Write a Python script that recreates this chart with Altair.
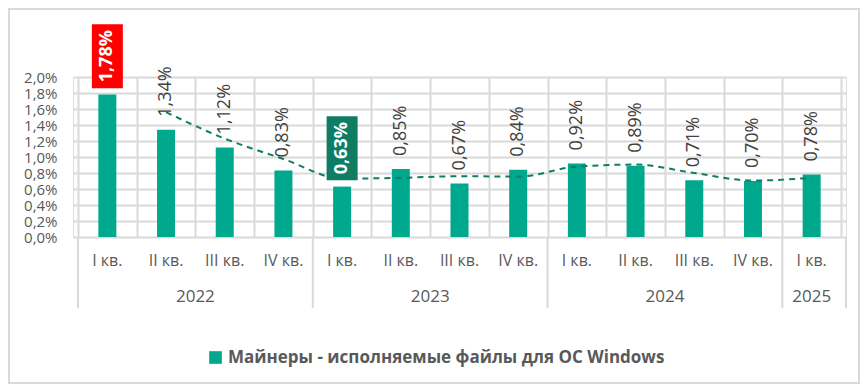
import altair as alt
import pandas as pd

quarters = ["I кв.", "II кв.", "III кв.", "IV кв.",
            "I кв.", "II кв.", "III кв.", "IV кв.",
            "I кв.", "II кв.", "III кв.", "IV кв.",
            "I кв."]
years = ["2022", "2022", "2022", "2022",
         "2023", "2023", "2023", "2023",
         "2024", "2024", "2024", "2024",
         "2025"]
values = [1.78, 1.34, 1.12, 0.83, 0.63, 0.85, 0.67, 0.84, 0.92, 0.89, 0.71, 0.70, 0.78]
series_name = "Майнеры - исполняемые файлы для ОС Windows"

df = pd.DataFrame({
    "idx": list(range(len(values))),
    "quarter": quarters,
    "year": years,
    "v": values,
    "series": [series_name] * len(values),
})

FONT = "Open Sans"
BAR = "#00A88E"
DARK = "#0E7D64"
GRID = "#D9D9D9"
TXT = "#595959"
W, H = 773, 160
PL, PT, PR, PB = 65, 69, 14, 147

xs = alt.Scale(domain=[0, 13], nice=False, zero=False)
ys = alt.Scale(domain=[0, 2], nice=False)

base = alt.Chart(df).transform_calculate(
    c="datum.idx + 0.5",
    lab="replace(format(datum.v, '.2f'), '.', ',') + '%'",
)

x_axis = alt.Axis(values=list(range(14)), grid=True, labels=False, ticks=False, domain=False,
                  title=None, gridColor=GRID, gridWidth=2)
y_axis = alt.Axis(values=[round(i * 0.2, 1) for i in range(11)], grid=True, gridColor=GRID,
                  gridWidth=2, domain=False, ticks=False, title=None, labelFontSize=15,
                  labelColor=TXT, labelFont=FONT, labelPadding=16, labelOverlap=False,
                  labelBaseline="middle",
                  labelExpr="replace(format(datum.value, '.1f'), '.', ',') + '%'")


def X(field):
    return alt.X(field, scale=xs, axis=x_axis)


def Y(field):
    return alt.Y(field, scale=ys, axis=y_axis)


bars = base.mark_bar(size=18).encode(
    x=X("c:Q"),
    y=Y("v:Q"),
    color=alt.Color("series:N", scale=alt.Scale(range=[BAR]),
                    legend=alt.Legend(orient="none", legendX=134, legendY=272, title=None,
                                      symbolType="square", symbolSize=160, symbolStrokeWidth=0,
                                      labelFontSize=17, labelFontWeight="bold", labelColor=TXT,
                                      labelFont=FONT, padding=0, labelOffset=4, labelLimit=0)),
)

ext = base.transform_joinaggregate(vmax="max(v)", vmin="min(v)")

labels = ext.transform_filter("datum.v != datum.vmax && datum.v != datum.vmin").mark_text(
    angle=270, align="left", baseline="middle", dx=13, fontSize=18, font=FONT, color="#404040"
).encode(x=X("c:Q"), y=Y("v:Q"), text="lab:N")

hl = ext.transform_filter("datum.v == datum.vmax || datum.v == datum.vmin").transform_calculate(
    lo="datum.v + 0.08", hi="datum.v + 0.88", mid="datum.v + 0.48",
    col=f"datum.v == datum.vmax ? '#FF0000' : '{DARK}'",
)
boxes = hl.mark_bar(size=31).encode(
    x=X("c:Q"), y=Y("lo:Q"), y2="hi:Q",
    fill=alt.Fill("col:N", scale=None),
)
hl_text = hl.mark_text(angle=270, align="center", baseline="middle", fontSize=18,
                       fontWeight="bold", font=FONT, color="white").encode(
    x=X("c:Q"), y=Y("mid:Q"), text="lab:N")

trend = base.transform_window(
    ma="mean(v)", frame=[-1, 0], sort=[alt.SortField("idx")]
).transform_filter("datum.idx >= 1").mark_line(
    color=DARK, strokeWidth=2, strokeDash=[6, 5], interpolate="monotone"
).encode(x=X("c:Q"), y=Y("ma:Q"))

qlabels = base.mark_text(fontSize=16, font=FONT, color=TXT, baseline="middle").encode(
    x=X("c:Q"), y=alt.value(H + 24), text="quarter:N")

ylabels = base.transform_aggregate(
    lo="min(idx)", hi="max(idx)", groupby=["year"]
).transform_calculate(mid="(datum.lo + datum.hi + 1) / 2").mark_text(
    fontSize=17, font=FONT, color=TXT, baseline="middle"
).encode(x=X("mid:Q"), y=alt.value(H + 60), text="year:N")

seps = base.transform_aggregate(lo="min(idx)", groupby=["year"]).mark_rule(
    color=GRID, strokeWidth=2
).encode(x=X("lo:Q"), y=alt.value(H), y2=alt.value(H + 71))
sep_end = base.transform_aggregate(n="count()").mark_rule(color=GRID, strokeWidth=2).encode(
    x=alt.value(W), y=alt.value(H), y2=alt.value(H + 71))

border = base.transform_aggregate(n="count()").mark_rect(
    filled=False, stroke=GRID, strokeWidth=2
).encode(x=alt.value(-PL + 1), x2=alt.value(W + PR - 1),
         y=alt.value(-PT + 1), y2=alt.value(H + PB - 1))

chart = alt.layer(
    bars, border, trend, labels, boxes, hl_text, qlabels, ylabels, seps, sep_end
).properties(
    width=W, height=H,
    autosize=alt.AutoSizeParams(type="none"),
    padding={"left": PL, "top": PT, "right": PR, "bottom": PB},
).configure_view(stroke=GRID, strokeWidth=2).configure(background="white")

chart.save("out.html", embed_options={"renderer": "svg", "actions": False})
